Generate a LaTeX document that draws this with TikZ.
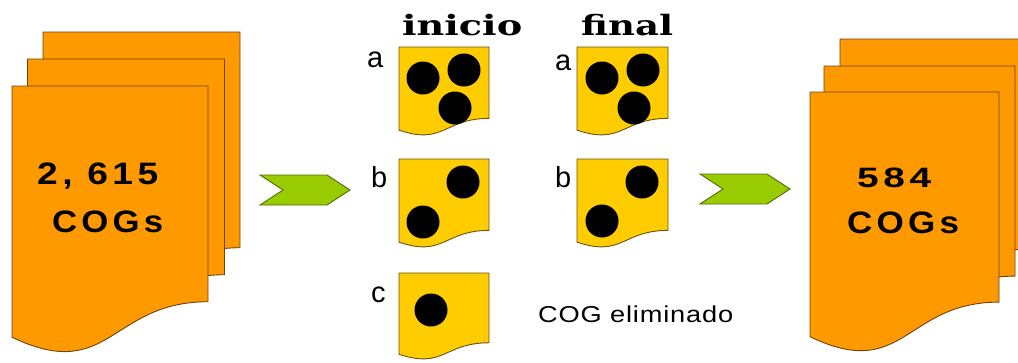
\documentclass[tikz,border=0pt]{standalone}
\usepackage{fontspec}
\usepackage{graphicx}
\setmainfont{Liberation Sans}
\newfontfamily\headfont{DejaVu Serif}
\newfontfamily\countfont{Liberation Sans}[LetterSpace=12]
\newfontfamily\notefont{Liberation Sans}[LetterSpace=3]

\definecolor{docorange}{HTML}{FF9900}
\definecolor{docedge}{HTML}{6E4210}
\definecolor{cardgold}{HTML}{FFCC00}
\definecolor{cardedge}{HTML}{6E5210}
\definecolor{chevgreen}{HTML}{99CC00}
\definecolor{chevedge}{HTML}{4F6B12}

\tikzset{
  % flow-chart "document" outline: w x h, wavy bottom edge
  pics/doc/.style 2 args={code={
    \path[pic actions] (0,0) -- (#1,0) -- (#1,{0.802*#2})
      .. controls ({0.5*#1},{0.802*#2}) and ({0.5*#1},{1.1075*#2}) .. (0,{0.934*#2}) -- cycle;
  }},
  bigdoc/.style={fill=docorange, draw=docedge, line width=0.9pt},
  card/.style={fill=cardgold, draw=cardedge, line width=0.9pt},
  chevron/.style={fill=chevgreen, draw=chevedge, line width=0.9pt, line join=miter},
  dot/.style={fill=black},
  countlbl/.style={anchor=base west, inner sep=0pt, font=\countfont\bfseries\fontsize{31}{31}\selectfont},
  rowlbl/.style={anchor=base west, inner sep=0pt, font=\fontsize{29}{29}\selectfont},
  headlbl/.style={anchor=base west, inner sep=0pt, font=\headfont\bfseries\fontsize{28}{28}\selectfont},
}

\begin{document}
\begin{tikzpicture}[x=1pt,y=-1pt]
\useasboundingbox (0,0) rectangle (1018,362);
\clip (0,0) rectangle (1018,362);

% input stack of documents
\pic[bigdoc] at (43,32) {doc={197}{269}};
\pic[bigdoc] at (27.5,59) {doc={197}{269}};
\pic[bigdoc] at (12,86) {doc={196}{269}};
\node[countlbl] (inCount) at (37,184) {\resizebox{121pt}{\height}{2, 615}};
\node[countlbl] (inUnit) at (52,232) {\resizebox{111pt}{\height}{COGs}};

% output stack of documents
\pic[bigdoc] at (840,39) {doc={190}{262}};
\pic[bigdoc] at (824,66) {doc={191}{262}};
\pic[bigdoc] at (810,92) {doc={189}{262}};
\node[countlbl, font=\countfont\bfseries\fontsize{28}{28}\selectfont] (outCount) at (857,187) {\resizebox{74pt}{\height}{584}};
\node[countlbl] (outUnit) at (847,233) {\resizebox{112pt}{\height}{COGs}};

% chevrons
\path[chevron] (260,175) -- (327,175) -- (350,190) -- (327,205) -- (260,205) -- (283,190) -- cycle;
\path[chevron] (700,174) -- (767,174) -- (790,189) -- (767,204) -- (700,204) -- (723,189) -- cycle;

% column headings
\node[headlbl] (hStart) at (402,35) {\resizebox{120pt}{\height}{inicio}};
\node[headlbl] (hEnd) at (581,35) {\resizebox{92pt}{\height}{final}};

% start column
\node[rowlbl] (sa) at (367,67) {a};
\pic[card] at (399,47) {doc={90}{89}};
\fill[dot] (423,78) circle[radius=16.5pt];
\fill[dot] (464,70) circle[radius=16.5pt];
\fill[dot] (455,108) circle[radius=16.5pt];

\node[rowlbl] (sb) at (371,187) {b};
\pic[card] at (399,159) {doc={90}{89}};
\fill[dot] (463,182) circle[radius=16.5pt];
\fill[dot] (423,222) circle[radius=16.5pt];

\node[rowlbl] (sc) at (371,302) {c};
\pic[card] at (399,273) {doc={90}{87}};
\fill[dot] (431,310) circle[radius=16.5pt];

% end column
\node[rowlbl] (ea) at (555,70) {a};
\pic[card] at (577,47) {doc={91}{89}};
\fill[dot] (602,78) circle[radius=16.5pt];
\fill[dot] (643,70) circle[radius=16.5pt];
\fill[dot] (634,108) circle[radius=16.5pt];

\node[rowlbl] (eb) at (555,187) {b};
\pic[card] at (577,159) {doc={91}{89}};
\fill[dot] (642,182) circle[radius=16.5pt];
\fill[dot] (602,221) circle[radius=16.5pt];

\node[anchor=base west, inner sep=0pt, font=\notefont\fontsize{23}{23}\selectfont] (removed) at (538,322)
  {\resizebox{195pt}{\height}{COG eliminado}};
\end{tikzpicture}
\end{document}
